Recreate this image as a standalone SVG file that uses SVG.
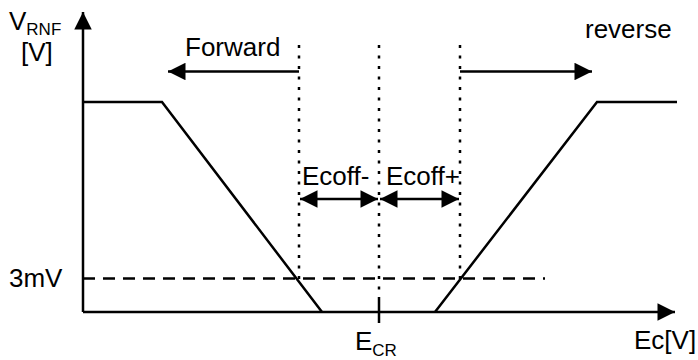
<svg xmlns="http://www.w3.org/2000/svg" width="698" height="360" viewBox="0 0 698 360">
<style>
text{font-family:"Liberation Sans",Arial,sans-serif;font-size:26px;fill:#000}
.sub{font-size:17px}
.ln{stroke:#000;stroke-width:2.5;fill:none}
.dot{stroke:#000;stroke-width:2.5;fill:none;stroke-dasharray:3 7.5}
.dash{stroke:#000;stroke-width:2.5;fill:none;stroke-dasharray:12 8}
</style>
<defs>
<marker id="ah" viewBox="0 0 10 10" refX="10" refY="5" markerWidth="8" markerHeight="7" markerUnits="strokeWidth" orient="auto-start-reverse">
<path d="M0,0 L10,5 L0,10 z" fill="#000"/>
</marker>
</defs>
<g id="axes">
<path class="ln" d="M83,312 V12" marker-end="url(#ah)"/>
<path class="ln" d="M83,312 H675" marker-end="url(#ah)"/>
<path class="ln" d="M379,300 V323"/>
</g>
<g id="curve">
<path class="ln" d="M83,102 H162 L322,312"/>
<path class="ln" d="M435,312 L597,102 H677"/>
</g>
<g id="guides">
<path class="dot" d="M299,45 V280"/>
<path class="dot" d="M379,45 V300"/>
<path class="dot" d="M460,45 V280"/>
<path class="dash" d="M83,278.5 H545"/>
</g>
<g id="connectors">
<path class="ln" d="M299,71.5 H168" marker-end="url(#ah)"/>
<path class="ln" d="M460,71.5 H592" marker-end="url(#ah)"/>
<path class="ln" d="M300,199 H378" marker-start="url(#ah)" marker-end="url(#ah)"/>
<path class="ln" d="M380,199 H459" marker-start="url(#ah)" marker-end="url(#ah)"/>
</g>
<g id="labels">
<text x="9" y="30">V<tspan class="sub" dy="5">RNF</tspan></text>
<text x="21" y="61">[V]</text>
<text x="185" y="56">Forward</text>
<text x="585" y="38">reverse</text>
<text x="302" y="185">Ecoff-</text>
<text x="386" y="185">Ecoff+</text>
<text x="9" y="287">3mV</text>
<text x="355" y="350">E<tspan class="sub" dy="6">CR</tspan></text>
<text x="634" y="349">Ec[V]</text>
</g>
</svg>
